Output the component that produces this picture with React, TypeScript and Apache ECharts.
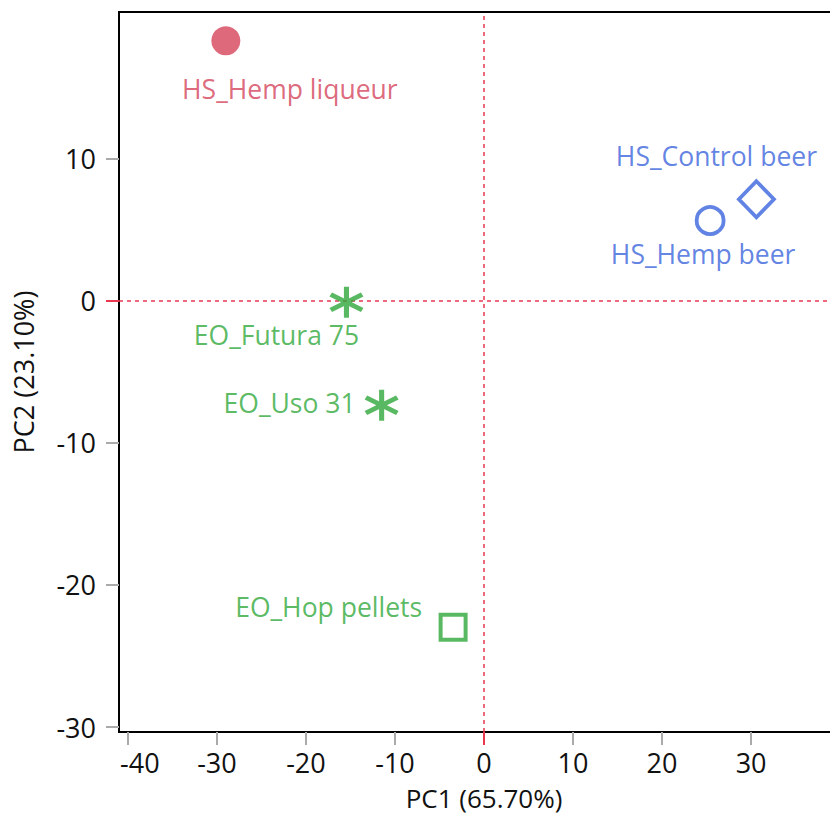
import React, { useEffect, useRef } from "react";
import * as echarts from "echarts";

const samples = ["HS_Hemp liqueur", "HS_Control beer", "HS_Hemp beer", "EO_Futura 75", "EO_Uso 31", "EO_Hop pellets"];
const pc1 = [-29.0, 30.6, 25.4, -15.45, -11.5, -3.47];
const pc2 = [18.3, 7.15, 5.65, -0.1, -7.35, -22.98];
const xTickLabels = [-40, -30, -20, -10, 0, 10, 20, 30];
const yTickLabels = [-30, -20, -10, 0, 10];

const RED = "#d4435a";
const BLUE = "#3a64dc";
const GREEN = "#30a83b";
const ZERO = "#e8374f";
const FONT = "Open Sans";
const LABEL_SIZE = 26.5;
const AXIS_SIZE = 27;

const ASTERISK =
  "path://M43 0L57 0L57 100L43 100Z M3.2 31.1L10.2 18.9L96.8 68.9L89.8 81.1Z M3.2 68.9L89.8 18.9L96.8 31.1L10.2 81.1Z";

const hollow = (c: string, w: number) => ({ color: "rgba(0,0,0,0)", borderColor: c, borderWidth: w });

const markerStyles: any[] = [
  { symbol: "circle", symbolSize: 29, itemStyle: { color: RED }, color: RED, offset: [64, 48], align: "center" },
  { symbol: "diamond", symbolSize: [35, 36], itemStyle: hollow(BLUE, 3.8), color: BLUE, offset: [-40, -43], align: "center" },
  { symbol: "circle", symbolSize: 27, itemStyle: hollow(BLUE, 3.8), color: BLUE, offset: [-7, 33], align: "center" },
  { symbol: ASTERISK, symbolSize: [34, 31], itemStyle: { color: GREEN }, color: GREEN, offset: [-70, 33], align: "center" },
  { symbol: ASTERISK, symbolSize: [34, 31], itemStyle: { color: GREEN }, color: GREEN, offset: [-26, -2], align: "right" },
  { symbol: "rect", symbolSize: 25, itemStyle: hollow(GREEN, 4), color: GREEN, offset: [-31, -20], align: "right" },
];

export default function App() {
  const ref = useRef<HTMLDivElement>(null);
  useEffect(() => {
    if (!ref.current) return;
    const chart = echarts.init(ref.current, null, { renderer: "svg" });
    const data = samples.map((name, i) => {
      const s = markerStyles[i];
      return {
        name,
        value: [pc1[i], pc2[i]],
        symbol: s.symbol,
        symbolSize: s.symbolSize,
        symbolKeepAspect: false,
        itemStyle: s.itemStyle,
        label: {
          show: true,
          formatter: "{b}",
          position: "inside",
          offset: s.offset,
          align: s.align,
          verticalAlign: "middle",
          color: s.color,
          fontSize: LABEL_SIZE,
          fontFamily: FONT,
        },
      };
    });
    const tickGray = { color: "#aaaaaa", width: 2 };
    const axisText = { fontSize: AXIS_SIZE, color: "#111", fontFamily: FONT, lineHeight: 27 };
    const nameText = { fontSize: 26, color: "#111", fontFamily: FONT, lineHeight: 26 };
    chart.setOption({
      animation: false,
      backgroundColor: "#fff",
      grid: {
        left: 119,
        top: 12,
        right: 11,
        bottom: 83,
        containLabel: false,
        outerBoundsMode: "none",
        show: true,
        borderColor: "#000",
        borderWidth: 2,
        backgroundColor: "transparent",
      },
      xAxis: [
        {
          type: "value",
          min: -41,
          max: 41,
          position: "bottom",
          splitLine: { show: false },
          axisLine: { show: true, onZero: false, lineStyle: { color: "#000", width: 2 } },
          axisTick: { show: true, length: 13, lineStyle: tickGray, customValues: xTickLabels.filter((v) => v !== 0) },
          axisLabel: {
            customValues: xTickLabels,
            ...axisText,
            margin: 17,
            formatter: (v: number) => (v === xTickLabels[0] ? `{first|${v}}` : `${v}`),
            rich: { first: { ...axisText, padding: [0, 0, 0, 24] } },
          },
          name: "PC1 (65.70%)",
          nameLocation: "middle",
          nameGap: 53,
          nameTextStyle: nameText,
        },
        {
          type: "value",
          min: -41,
          max: 41,
          position: "bottom",
          splitLine: { show: false },
          axisLine: { show: false, onZero: false },
          axisTick: { show: true, length: 13, lineStyle: { color: ZERO, width: 2 }, customValues: [0] },
          axisLabel: { show: false },
        },
      ],
      yAxis: [
        {
          type: "value",
          min: -30.35,
          max: 20.33,
          position: "left",
          splitLine: { show: false },
          axisLine: { show: true, onZero: false, lineStyle: { color: "#000", width: 2 } },
          axisTick: { show: true, length: 13, lineStyle: tickGray, customValues: yTickLabels.filter((v) => v !== 0) },
          axisLabel: { customValues: yTickLabels, ...axisText, margin: 23 },
          name: "PC2 (23.10%)",
          nameLocation: "middle",
          nameGap: 82,
          nameRotate: 90,
          nameTextStyle: axisText,
        },
        {
          type: "value",
          min: -30.35,
          max: 20.33,
          position: "left",
          splitLine: { show: false },
          axisLine: { show: false, onZero: false },
          axisTick: { show: true, length: 13, lineStyle: { color: ZERO, width: 2 }, customValues: [0] },
          axisLabel: { show: false },
        },
      ],
      series: [
        {
          type: "scatter",
          xAxisIndex: 0,
          yAxisIndex: 0,
          data,
          z: 3,
          markLine: {
            silent: true,
            symbol: ["none", "none"],
            label: { show: false },
            lineStyle: { color: ZERO, type: [4, 4], width: 1.5 },
            data: [{ xAxis: 0 }, { yAxis: 0 }],
            z: 1,
          },
        },
      ],
    });
    return () => chart.dispose();
  }, []);
  return (
    <div style={{ position: "fixed", left: 0, top: 0, width: 830, height: 815, overflow: "hidden", background: "#fff" }}>
      <div ref={ref} style={{ width: 860, height: 815 }} />
    </div>
  );
}
